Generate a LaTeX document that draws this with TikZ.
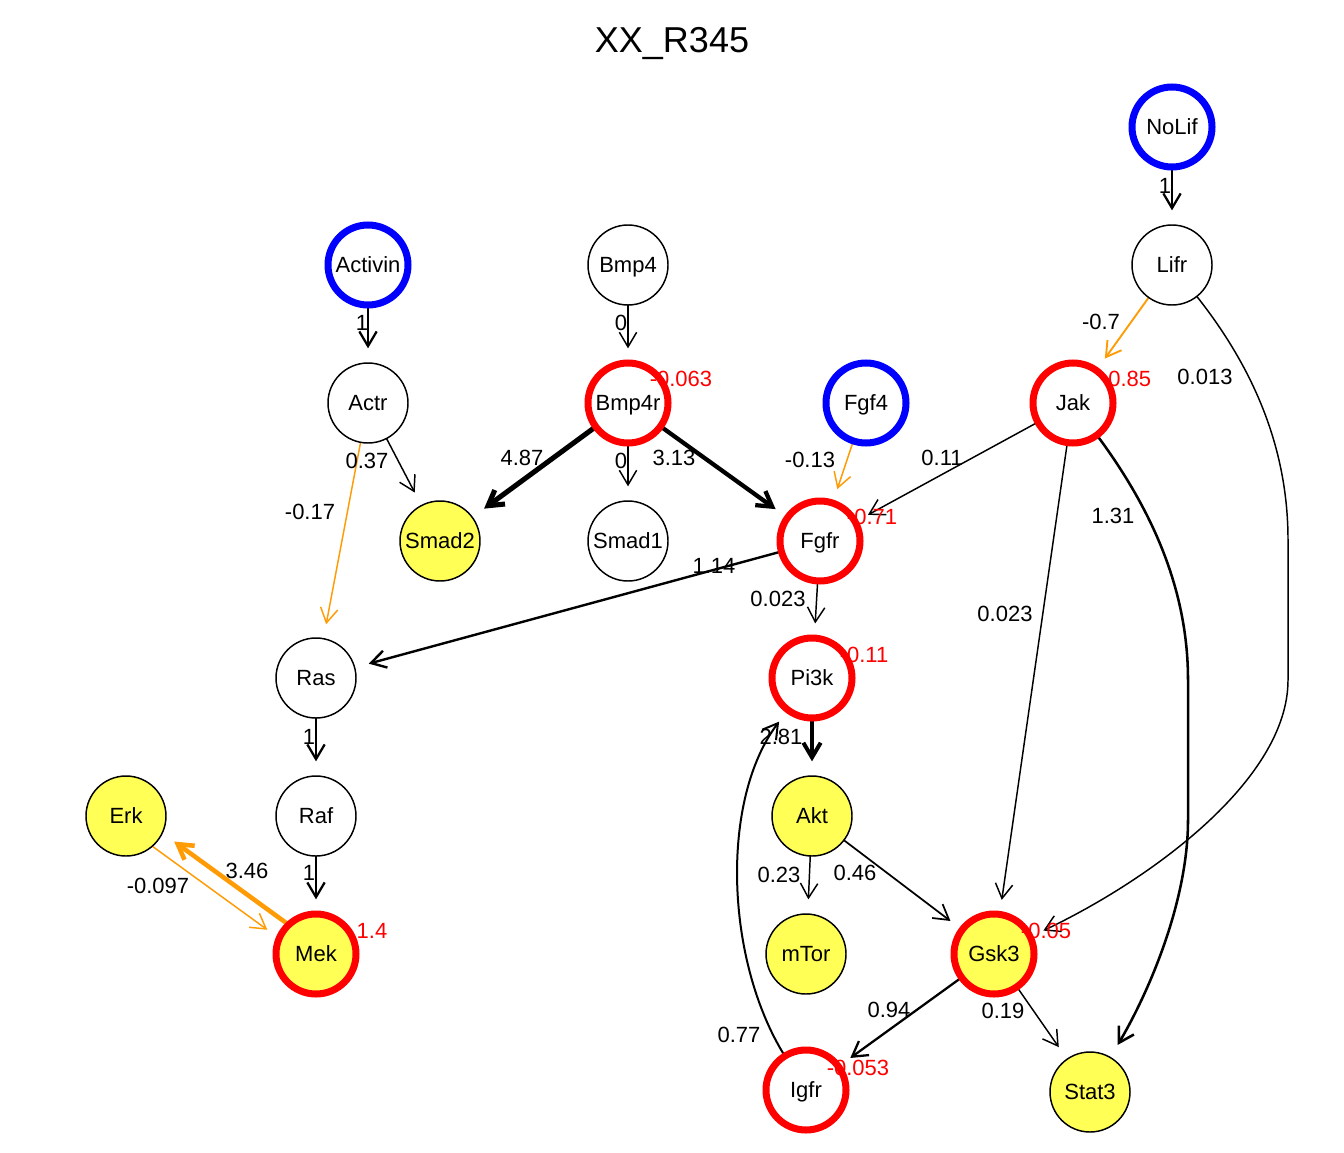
\documentclass[tikz,border=0pt]{standalone}
\usepackage{fontspec}
\setmainfont{Liberation Sans}
\usetikzlibrary{arrows.meta,backgrounds}
\definecolor{nodeyellow}{RGB}{255,255,85}
\definecolor{rorange}{RGB}{255,155,5}
\begin{document}
\begin{tikzpicture}[x=0.75pt,y=-0.75pt,
  vtx/.style={circle,draw=black,line width=1.1pt,minimum size=60pt,inner sep=0pt,outer sep=0pt,
    font=\fontsize{16.5}{18}\selectfont,text height=11.8pt,text depth=0pt},
  yel/.style={fill=nodeyellow},
  redb/.style={draw=red,line width=5.25pt},
  blueb/.style={draw=blue,line width=5.25pt},
  elab/.style={font=\fontsize{16.5}{18}\selectfont,inner sep=0pt,text height=11.8pt,text depth=0pt},
  rlab/.style={elab,text=red},
  ed/.style={-{Straight Barb[length=11pt,width=13pt]},shorten >=11pt,line width=1.1pt},
  oed/.style={ed,draw=rorange}]
\useasboundingbox (0,0) rectangle (1344,1152);

\node[font=\fontsize{27}{30}\selectfont,inner sep=0pt,text height=19.3pt,text depth=0pt] (title) at (672,40) {XX\_R345};

% vertices
\node[vtx,blueb] (nolif) at (1172,127) {NoLif};
\node[vtx] (lifr) at (1172,265) {Lifr};
\node[vtx,blueb] (activin) at (368,265) {Activin};
\node[vtx] (bmp4) at (628,265) {Bmp4};
\node[vtx] (actr) at (368,403) {Actr};
\node[vtx,redb] (bmp4r) at (628,403) {Bmp4r};
\node[vtx,blueb] (fgf4) at (866,403) {Fgf4};
\node[vtx,redb] (jak) at (1073,403) {Jak};
\node[vtx,yel] (smad2) at (440,541) {Smad2};
\node[vtx] (smad1) at (628,541) {Smad1};
\node[vtx,redb] (fgfr) at (820,541) {Fgfr};
\node[vtx] (ras) at (316,678) {Ras};
\node[vtx,redb] (pi3k) at (812,678) {Pi3k};
\node[vtx,yel] (erk) at (126,816) {Erk};
\node[vtx] (raf) at (316,816) {Raf};
\node[vtx,yel] (akt) at (812,816) {Akt};
\node[vtx,yel,redb] (mek) at (316,954) {Mek};
\node[vtx,yel] (mtor) at (806,954) {mTor};
\node[vtx,yel,redb] (gsk3) at (994,954) {Gsk3};
\node[vtx,redb] (igfr) at (806,1090) {Igfr};
\node[vtx,yel] (stat3) at (1090,1092) {Stat3};

% edges
\begin{pgfonlayer}{background}
\fill[white] (0,0) rectangle (1344,1152);
\draw[ed,line width=1.7pt] (nolif) -- (lifr);
\draw[ed,line width=1.7pt] (activin) -- (actr);
\draw[ed] (bmp4) -- (bmp4r);
\draw[ed] (bmp4r) -- (smad1);
\draw[ed] (actr) -- (smad2);
\draw[oed] (actr) -- (ras);
\draw[ed,line width=3.8pt] (bmp4r) -- (smad2);
\draw[ed,line width=3.2pt] (bmp4r) -- (fgfr);
\draw[oed] (fgf4) -- (fgfr);
\draw[ed] (jak) -- (fgfr);
\draw[oed,line width=1.4pt] (lifr) -- (jak);
\draw[ed] (lifr) .. controls (1255,370) and (1288,450) .. (1288,540) -- (1288,680)
  .. controls (1288,780) and (1150,880) .. (gsk3);
\draw[ed] (jak) -- (gsk3);
\draw[ed,line width=1.9pt] (jak) .. controls (1160,520) and (1188,600) .. (1188,680) -- (1188,820)
  .. controls (1188,900) and (1150,990) .. (stat3);
\draw[ed,line width=1.8pt] (fgfr) -- (ras);
\draw[ed] (fgfr) -- (pi3k);
\draw[ed,line width=3pt] (pi3k) -- (akt);
\draw[ed,line width=1.7pt] (ras) -- (raf);
\draw[ed,line width=1.7pt] (raf) -- (mek);
\draw[oed] (erk.-49) -- (mek.157);
\draw[oed,line width=3.4pt] (mek.133) -- (erk.-25);
\draw[ed] (akt) -- (mtor);
\draw[ed,line width=1.3pt] (akt) -- (gsk3);
\draw[ed,line width=1.7pt] (gsk3) -- (igfr);
\draw[ed] (gsk3) -- (stat3);
\draw[ed,line width=1.5pt] (igfr) .. controls (725,960) and (720,800) .. (pi3k);
\end{pgfonlayer}

% edge labels
\node[elab] (l01) at (1165,186) {1};
\node[elab] (l02) at (362,323) {1};
\node[elab] (l03) at (621,323) {0};
\node[elab] (l04) at (621,461) {0};
\node[elab] (l05) at (367,461) {0.37};
\node[elab] (l06) at (310,512) {-0.17};
\node[elab] (l07) at (522,458) {4.87};
\node[elab] (l08) at (674,458) {3.13};
\node[elab] (l09) at (810,460) {-0.13};
\node[elab] (l10) at (942,458) {0.11};
\node[elab] (l11) at (1101,322) {-0.7};
\node[elab] (l12) at (1205,377) {0.013};
\node[elab] (l13) at (1005,614) {0.023};
\node[elab] (l14) at (1113,516) {1.31};
\node[elab] (l15) at (714,566) {1.14};
\node[elab] (l16) at (778,599) {0.023};
\node[elab] (l17) at (781,737) {2.81};
\node[elab] (l18) at (309,737) {1};
\node[elab] (l19) at (309,873) {1};
\node[elab] (l20) at (158,886) {-0.097};
\node[elab] (l21) at (247,871) {3.46};
\node[elab] (l22) at (779,875) {0.23};
\node[elab] (l23) at (855,873) {0.46};
\node[elab] (l24) at (889,1010) {0.94};
\node[elab] (l25) at (1003,1011) {0.19};
\node[elab] (l26) at (739,1035) {0.77};

% node value labels
\node[rlab] (r1) at (681,379) {-0.063};
\node[rlab] (r2) at (1126,379) {-0.85};
\node[rlab] (r3) at (872,517) {-0.71};
\node[rlab] (r4) at (864,655) {-0.11};
\node[rlab] (r5) at (372,931) {1.4};
\node[rlab] (r6) at (1046,931) {-0.05};
\node[rlab] (r7) at (858,1068) {-0.053};
\end{tikzpicture}
\end{document}
